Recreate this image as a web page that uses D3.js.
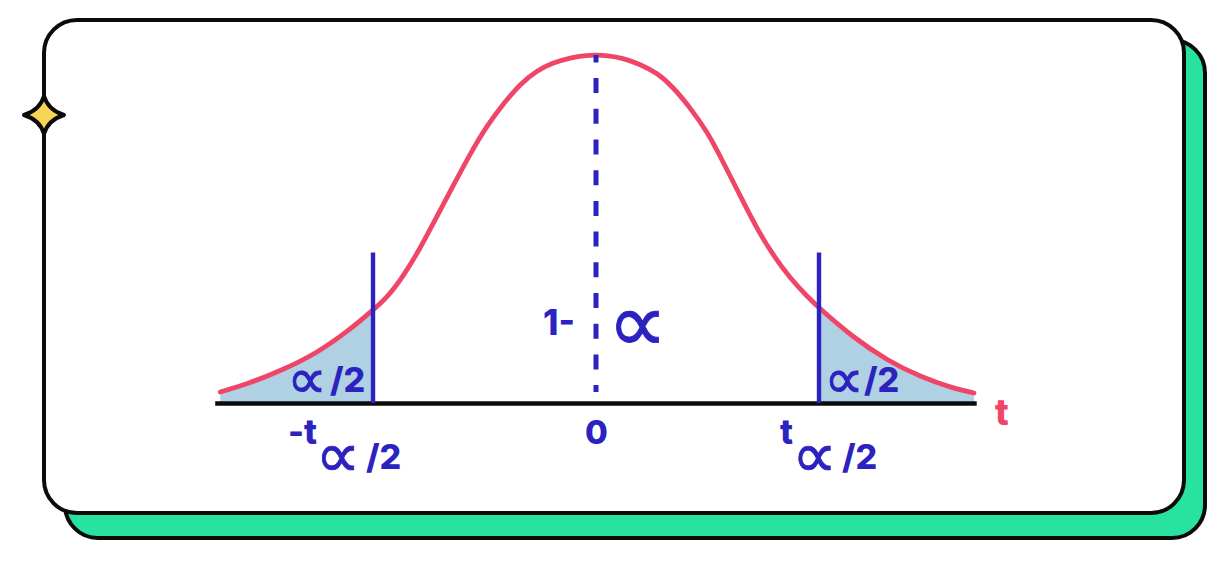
<!DOCTYPE html>
<html>
<head>
<meta charset="utf-8">
<script src="https://cdn.jsdelivr.net/npm/d3@7"></script>
<style>
  html, body { margin: 0; padding: 0; background: #fff; }
  text { font-family: Inter, "DejaVu Sans", sans-serif; font-weight: 800; }
  .sym { font-family: "DejaVu Sans", sans-serif; font-weight: 400; }
</style>
</head>
<body>
<svg id="chart"></svg>
<script>
// curve, t units with the critical value at +-2
const tValues = [-3.37, -3.10, -2.81, -2.50, -2.21, -2.00, -1.87, -1.73, -1.58, -1.43, -1.28, -1.13,
  -0.98, -0.83, -0.68, -0.53, -0.39, -0.23, -0.08, 0, 0.10, 0.24, 0.39, 0.55, 0.69, 0.84, 1.00, 1.14,
  1.29, 1.44, 1.59, 1.74, 1.89, 2.00, 2.30, 2.61, 2.91, 3.20, 3.39];
const density = [0.0126, 0.023, 0.038, 0.0575, 0.084, 0.1069, 0.1218, 0.1454, 0.177, 0.2138, 0.25, 0.2862,
  0.3184, 0.3441, 0.3667, 0.3822, 0.3908, 0.3971, 0.3997, 0.4, 0.3994, 0.3966, 0.3897, 0.3793, 0.3632, 0.3402, 0.3115, 0.277,
  0.2391, 0.2011, 0.1695, 0.1437, 0.123, 0.1092, 0.076, 0.049, 0.030, 0.017, 0.0115];
const critical = [-2, 2];
const critTop = 0.173;
const meanLineBottom = 0.0126;
const alpha = "\u221D";
const tailLabel = "/2";
const centerLabel = "1-";
const zeroLabel = "0";
const axisLabel = "t";

const width = 1222;
const height = 562;
const blue = "#2b22c0";
const red = "#ef4668";
const ink = "#0b0b0b";

const svg = d3.select("#chart")
  .attr("width", width)
  .attr("height", height)
  .style("display", "block");

// card and its shadow
svg.append("rect")
  .attr("x", 65).attr("y", 40).attr("width", 1140).attr("height", 498).attr("rx", 33)
  .attr("fill", "#28e3a0").attr("stroke", ink).attr("stroke-width", 4);
svg.append("rect")
  .attr("x", 44).attr("y", 20).attr("width", 1140).attr("height", 493).attr("rx", 33)
  .attr("fill", "#fff").attr("stroke", ink).attr("stroke-width", 4);
svg.append("path")
  .attr("transform", "translate(44,115)")
  .attr("d", "M0,-19 Q4,-5 20,0 Q4,5 0,19 Q-4,5 -20,0 Q-4,-5 0,-19 Z")
  .attr("fill", "#f4d653").attr("stroke", ink).attr("stroke-width", 4).attr("stroke-linejoin", "round");

const xScale = d3.scaleLinear().domain([-3.42, 3.41]).range([214.7, 976.2]);
const yScale = d3.scaleLinear().domain([0, 0.4]).range([403, 55]);

const points = tValues.map((t, i) => ({ t, d: density[i] }));

const area = d3.area()
  .x(d => xScale(d.t)).y0(yScale(0)).y1(d => yScale(d.d))
  .curve(d3.curveMonotoneX);
const line = d3.line()
  .x(d => xScale(d.t)).y(d => yScale(d.d))
  .curve(d3.curveBasis);

// shaded tails
[points.filter(d => d.t <= critical[0]), points.filter(d => d.t >= critical[1])].forEach(tail => {
  svg.append("path").attr("d", area(tail)).attr("fill", "#b0d0e4");
});

svg.append("path")
  .attr("d", line(points))
  .attr("fill", "none").attr("stroke", red).attr("stroke-width", 4.8).attr("stroke-linecap", "round");

// baseline
const axis = svg.append("g")
  .attr("transform", `translate(0,${yScale(0)})`)
  .call(d3.axisBottom(xScale).tickValues([]).tickSize(0).tickSizeOuter(0));
axis.select(".domain").attr("stroke", ink).attr("stroke-width", 4.6);

// mean line and critical lines
svg.append("line")
  .attr("x1", xScale(0)).attr("x2", xScale(0))
  .attr("y1", yScale(0.4)).attr("y2", yScale(meanLineBottom))
  .attr("stroke", blue).attr("stroke-width", 5)
  .attr("stroke-dasharray", "15 15.7").attr("stroke-dashoffset", 7.6);

svg.selectAll(".crit")
  .data(critical)
  .enter().append("line")
  .attr("class", "crit")
  .attr("x1", d => xScale(d)).attr("x2", d => xScale(d))
  .attr("y1", yScale(critTop)).attr("y2", yScale(0))
  .attr("stroke", blue).attr("stroke-width", 4.4);

function label(x, y, str, size, cls, color) {
  const t = svg.append("text")
    .attr("class", cls || null)
    .attr("x", x).attr("y", y)
    .attr("font-size", size)
    .attr("fill", color || blue)
    .text(str);
  // the alpha glyph is thin at this size, thicken it a bit
  if (cls === "sym") t.attr("stroke", color || blue).attr("stroke-width", 0.8);
  return t;
}

// t with its alpha/2 subscript, one text element
function critLabel(x, head, subX, slashX) {
  const t = svg.append("text").attr("fill", blue);
  t.append("tspan").attr("x", x).attr("y", 444).attr("font-size", 34).text(head);
  t.append("tspan").attr("class", "sym").attr("x", subX).attr("y", 477).attr("font-size", 63)
    .attr("stroke", blue).attr("stroke-width", 0.8).text(alpha);
  t.append("tspan").attr("x", slashX).attr("y", 469).attr("font-size", 34).text(tailLabel);
}

const x0 = xScale(0);
const xl = xScale(critical[0]);
const xr = xScale(critical[1]);

// labels inside the plot
label(x0 - 53, 335, centerLabel, 35);
label(x0 + 11.5, 352, alpha, 84, "sym");
label(xl - 86, 398, alpha, 56, "sym");
label(xl - 43, 392, tailLabel, 34);
label(xr + 5, 398, alpha, 56, "sym");
label(xr + 45, 392, tailLabel, 34);

// labels under the axis
label(x0 - 11, 444, zeroLabel, 33);
critLabel(xl - 85, "-t", xl - 57.5, xl - 7);
critLabel(xr - 39, axisLabel, xr - 27, xr + 23);
label(995, 425, axisLabel, 36, null, red);
</script>
</body>
</html>
